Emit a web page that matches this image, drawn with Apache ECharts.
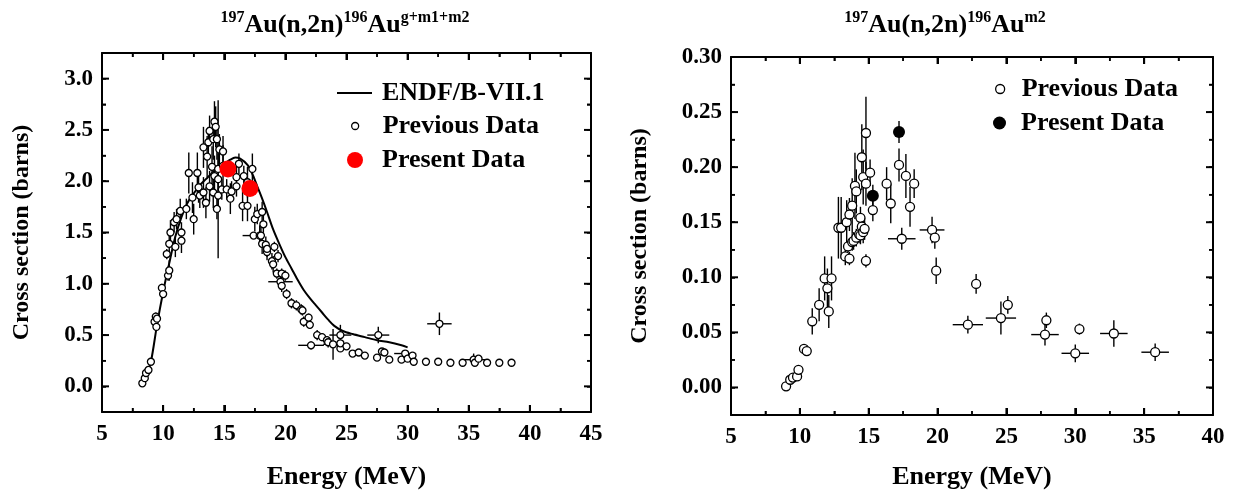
<!DOCTYPE html>
<html>
<head>
<meta charset="utf-8">
<script src="https://cdn.jsdelivr.net/npm/echarts@6/dist/echarts.min.js"></script>
<style>
html,body{margin:0;padding:0;background:#fff;}
#chart{width:1239px;height:495px;}
</style>
</head>
<body>
<div id="chart"></div>
<script>
// ---------- data ----------
// tick labels
const leftXTicks = [5,10,15,20,25,30,35,40,45];
const leftYTicks = [0,0.5,1.0,1.5,2.0,2.5,3.0];
const rightXTicks = [5,10,15,20,25,30,35,40];
const rightYTicks = [0,0.05,0.10,0.15,0.20,0.25,0.30];

// ENDF/B-VII.1 evaluation, g+m1+m2 : [E (MeV), sigma (b)]
const leftEndf = [[8.2,0],[8.6,0.1],[9.0,0.24],[9.5,0.6],[10,0.92],[10.5,1.2],[11,1.46],[11.5,1.65],[12,1.79],[12.5,1.88],[13,1.96],[13.5,2.02],[14,2.08],[14.5,2.13],[15,2.17],[15.5,2.21],[15.9,2.23],[16.3,2.22],[16.9,2.16],[17.3,2.07],[17.7,1.95],[18.1,1.83],[18.5,1.70],[19,1.53],[19.5,1.39],[20,1.26],[20.5,1.15],[21,1.04],[21.5,0.94],[22,0.86],[22.5,0.79],[23,0.72],[23.5,0.65],[24,0.59],[24.7,0.54],[25.5,0.51],[26.5,0.48],[27.5,0.45],[28.5,0.43],[29.5,0.40],[30,0.38]];

// previous data, g+m1+m2 : [E, sigma, d_sigma, d_E]
const leftPrev = [
[8.3,0.03,0,0],[8.5,0.08,0,0],[8.6,0.13,0.02,0],[8.8,0.16,0,0],[9.0,0.24,0.02,0],
[9.3,0.63,0.03,0],[9.4,0.68,0.04,0],[9.45,0.58,0.03,0],[9.5,0.66,0,0],[9.9,0.96,0.04,0],
[10.0,0.90,0.03,0],[10.3,1.29,0.05,0],[10.4,1.08,0.05,0],[10.5,1.13,0.1,0],[10.5,1.39,0.1,0],
[10.6,1.50,0.12,0],[10.9,1.60,0.1,0],[11.0,1.36,0.1,0],[11.1,1.63,0.1,0],[11.4,1.71,0.12,0],
[11.5,1.42,0.12,0],[11.5,1.50,0.1,0],[11.9,1.73,0.1,0],[12.1,2.08,0.2,0],[12.4,1.84,0.15,0],
[12.5,1.63,0.15,0],[12.8,2.08,0.2,0],[12.9,1.94,0.15,0],[13.0,1.86,0.12,0],[13.3,1.89,0.15,0],
[13.3,2.33,0.2,0],[13.5,1.79,0.15,0],[13.6,2.24,0.2,0],[13.7,2.38,0.15,0],[13.8,2.49,0.15,0],
[13.8,1.95,0.15,0],[14.0,2.14,0.2,0],[14.1,2.41,0.2,0],[14.1,1.89,0.15,0],[14.2,2.58,0.2,0],
[14.2,2.05,0.2,0],[14.3,2.53,0.2,0],[14.4,2.41,0.2,0],[14.4,1.73,0.1,0],[14.5,2.02,0.77,0],
[14.5,1.86,0.15,0],[14.5,2.12,0.15,0],[14.6,2.31,0.15,0],[14.8,1.92,0.1,0],[14.9,2.29,0.15,0],
[14.9,2.15,0.2,0],[15.2,1.92,0.1,0],[15.5,1.83,0.15,0],[15.6,1.90,0.1,0],[16.0,1.95,0.1,0],
[16.0,2.04,0.12,0],[16.2,2.17,0.1,0],[16.5,1.76,0.15,0],[16.6,2.05,0.1,0],[16.9,1.99,0.15,0],
[16.9,1.76,0.15,0],[17.3,2.12,0.15,0],[17.4,1.47,0,0.9],[17.5,1.63,0.12,0],[17.7,1.68,0.1,0],
[17.9,1.47,0.1,0],[18.0,1.47,0.1,0],[18.1,1.70,0.1,0],[18.1,1.39,0.1,0],[18.2,1.58,0.1,0],
[18.4,1.38,0.08,0],[18.5,1.31,0.08,0],[18.5,1.34,0.08,0],[18.9,1.22,0.08,0],[19.0,1.19,0.08,0],
[19.1,1.36,0.05,0],[19.3,1.10,0.05,0],[19.4,1.27,0.06,0],[19.6,1.02,0.08,1.0],[19.7,1.10,0.05,0],
[19.7,0.98,0.06,0],[20.0,1.08,0.05,0],[20.1,0.90,0.05,0],[20.5,0.81,0.05,0],[20.9,0.79,0.05,0],
[21.3,0.75,0.05,0],[21.4,0.74,0.05,0],[21.5,0.63,0.05,0],[21.9,0.67,0.04,0],[22.0,0.60,0.04,0],
[22.1,0.40,0.04,1.05],[22.6,0.50,0.05,0],[23.0,0.48,0.04,0],[23.4,0.45,0.04,0],[23.5,0.43,0.05,0],
[23.9,0.41,0.15,0.8],[24.5,0.50,0.1,0.9],[24.5,0.37,0.03,0],[24.5,0.42,0.03,0],[25.0,0.39,0.03,0],
[25.5,0.32,0,0],[26.0,0.33,0,0],[26.5,0.30,0,0],[27.5,0.28,0,0],[27.6,0.50,0.08,0.9],
[27.9,0.34,0.03,0],[28.1,0.33,0.03,0],[28.5,0.26,0,0],[29.5,0.26,0,0],[29.8,0.32,0,0.9],
[30.0,0.27,0,0],[30.4,0.30,0,0],[30.5,0.24,0,0],[31.5,0.24,0,0],[32.5,0.24,0,0],
[32.6,0.61,0.11,1.0],[33.5,0.23,0,0],[34.5,0.23,0,0],[35.4,0.26,0.06,1.0],[35.5,0.23,0,0],
[35.8,0.27,0,0],[36.5,0.23,0,0],[37.5,0.23,0,0],[38.5,0.23,0,0]
];
// present data, g+m1+m2 : [E, sigma]
const leftPresent = [[15.3,2.12],[17.1,1.93]];

// previous data, m2 : [E, sigma, d_sigma, d_E]
const rightPrev = [
[9.0,0.001,0,0],[9.3,0.007,0,0],[9.5,0.009,0,0],[9.8,0.010,0,0],[9.9,0.016,0.002,0],
[10.3,0.035,0.004,0],[10.5,0.033,0.003,0],[10.9,0.060,0.012,0],[11.4,0.075,0.015,0],[11.8,0.099,0.02,0],
[12.0,0.090,0.018,0],[12.1,0.069,0.015,0],[12.3,0.099,0.02,0],[12.8,0.145,0.028,0],[13.0,0.145,0.028,0],
[13.3,0.119,0.008,0],[13.4,0.150,0.02,0],[13.5,0.128,0.005,0],[13.6,0.117,0.006,0],[13.6,0.157,0.015,0],
[13.8,0.165,0.025,0],[13.8,0.132,0.008,0],[13.9,0.133,0.008,0],[14.0,0.183,0.03,0],[14.1,0.178,0.02,0],
[14.1,0.136,0.008,0],[14.3,0.139,0.008,0],[14.4,0.154,0.01,0],[14.4,0.138,0.008,0],[14.5,0.209,0.03,0],
[14.5,0.146,0.01,0],[14.6,0.191,0.025,0],[14.6,0.141,0.01,0],[14.7,0.144,0.01,0],[14.8,0.231,0.033,0],
[14.8,0.185,0.02,0],[14.8,0.115,0.006,0],[15.1,0.195,0.012,0],[15.3,0.161,0.01,0],[16.3,0.185,0.015,0],
[16.6,0.167,0.018,0],[17.2,0.202,0.015,0],[17.4,0.135,0.01,1.0],[17.7,0.192,0.02,0],[18.0,0.164,0.018,0],
[18.3,0.185,0.013,0],[19.6,0.143,0.012,0.9],[19.8,0.136,0.01,0],[19.9,0.106,0.012,0],[22.2,0.057,0.008,1.1],
[22.8,0.094,0.009,0],[24.6,0.063,0.015,1.1],[25.1,0.075,0.008,0],[27.8,0.048,0.01,1.0],[27.9,0.061,0.007,0],
[30.0,0.031,0.008,1.0],[30.3,0.053,0.005,0],[32.8,0.049,0.012,1.0],[35.8,0.032,0.008,1.0]
];
// present data, m2 : [E, sigma, d_sigma, d_E]
const rightPresent = [[15.3,0.174,0.01,0],[17.2,0.232,0.01,0]];

// ---------- helpers ----------
const FONT = 'Liberation Serif';
const labelFont = {color:'#000',fontFamily:FONT,fontWeight:'bold',fontSize:23};
const nameFont = (s)=>({color:'#000',fontFamily:FONT,fontWeight:'bold',fontSize:s});
const L = {xmin:5, xmax:45, ymin:-0.25, ymax:3.25};
const R = {xmin:5, xmax:40, ymin:-0.025, ymax:0.30};

function onList(v, list){ return list.some(t => Math.abs(t - v) < 1e-9); }
function mids(arr){ const o=[]; for(let i=0;i<arr.length-1;i++) o.push((arr[i]+arr[i+1])/2); return o; }

function xAxisSet(gridIndex, ext, ticks, name, nameGap){
  const step = ticks[1] - ticks[0];
  return ['bottom','top'].map((pos, si) => ({
    type:'value', gridIndex, position:pos, min:ext.xmin, max:ext.xmax, interval:step,
    axisLine:{show:true,onZero:false,lineStyle:{color:'#000',width:2}},
    axisTick:{show:true,inside:true,length:7,lineStyle:{color:'#000',width:2}},
    minorTick:{show:true,splitNumber:2,length:4,lineStyle:{color:'#000',width:1.5}},
    axisLabel:Object.assign({show:si===0,margin:11,formatter:v=>onList(v,ticks)?String(v):''}, labelFont),
    splitLine:{show:false}, minorSplitLine:{show:false},
    name: si===0 ? name : '', nameLocation:'middle', nameGap, nameTextStyle:nameFont(26)
  }));
}
function yAxisSet(gridIndex, ext, ticks, digits, name, nameGap){
  const step = (ticks[1] - ticks[0]) / 2;
  return ['left','right'].map((pos, si) => ({
    type:'value', gridIndex, position:pos, min:ext.ymin, max:ext.ymax, interval:step,
    axisLine:{show:true,onZero:false,lineStyle:{color:'#000',width:2}},
    axisTick:{show:true,inside:true,length:4,lineStyle:{color:'#000',width:1.5}},
    axisLabel:Object.assign({show:si===0,margin:9,showMinLabel:false,
      formatter:v=>onList(v,ticks)?v.toFixed(digits):''}, labelFont),
    splitLine:{show:false},
    name: si===0 ? name : '', nameLocation:'middle', nameGap, nameTextStyle:nameFont(24)
  }));
}

// rows for the marks series: error bars [x, y, dy, dx, 0]; frame ticks [x, y, major, 0, 1|2]
function errRows(rows){ return rows.map(r => [r[0], r[1], r[2], r[3], 0]); }
function tickRows(ext, xt, yt){
  const items = [];
  xt.forEach(v => items.push([v, ext.ymin, 1, 0, 1]));
  mids(xt).forEach(v => items.push([v, ext.ymin, 0, 0, 1]));
  yt.forEach(v => items.push([ext.xmin, v, 1, 0, 2]));
  mids(yt).forEach(v => items.push([ext.xmin, v, 0, 0, 2]));
  return items;
}
function marksRender(ext){
  return function(params, api){
    const x = api.value(0), y = api.value(1), p = api.value(2), q = api.value(3), kind = api.value(4);
    const ch = [];
    if (kind === 0){
      if (p > 0){
        const a = api.coord([x, y-p]), b = api.coord([x, y+p]);
        ch.push({type:'line', shape:{x1:a[0],y1:a[1],x2:b[0],y2:b[1]}, style:{stroke:'#000', lineWidth:1.4}});
      }
      if (q > 0){
        const a = api.coord([x-q, y]), b = api.coord([x+q, y]);
        ch.push({type:'line', shape:{x1:a[0],y1:a[1],x2:b[0],y2:b[1]}, style:{stroke:'#000', lineWidth:1.4}});
      }
    } else {
      const len = p ? 7 : 4;
      const lw = p ? 2 : 1.5;
      if (kind === 1){
        const a = api.coord([x, ext.ymin]), b = api.coord([x, ext.ymax]);
        ch.push({type:'line', shape:{x1:a[0],y1:a[1],x2:a[0],y2:a[1]-len}, style:{stroke:'#000', lineWidth:lw}});
        ch.push({type:'line', shape:{x1:b[0],y1:b[1],x2:b[0],y2:b[1]+len}, style:{stroke:'#000', lineWidth:lw}});
      } else {
        const a = api.coord([ext.xmin, y]), b = api.coord([ext.xmax, y]);
        ch.push({type:'line', shape:{x1:a[0],y1:a[1],x2:a[0]+len,y2:a[1]}, style:{stroke:'#000', lineWidth:lw}});
        ch.push({type:'line', shape:{x1:b[0],y1:b[1],x2:b[0]-len,y2:b[1]}, style:{stroke:'#000', lineWidth:lw}});
      }
    }
    return {type:'group', children:ch};
  };
}

const xAxes = [].concat(
  xAxisSet(0, L, leftXTicks, 'Energy (MeV)', 52),
  xAxisSet(1, R, rightXTicks, 'Energy (MeV)', 49)
);
const yAxes = [].concat(
  yAxisSet(0, L, leftYTicks, 1, 'Cross section (barns)', 68),
  yAxisSet(1, R, rightYTicks, 2, 'Cross section (barns)', 79)
);

function leg(item, left, top, w, h, pad){
  return {show:true, orient:'vertical', left, top, padding:0, itemWidth:w, itemHeight:h,
    selectedMode:false,
    textStyle:{color:'#000',fontFamily:FONT,fontWeight:'bold',fontSize:26,lineHeight:26,padding:[0,0,0,pad]},
    data:[item]};
}

const rich = {
  s:{fontFamily:FONT,fontWeight:'bold',fontSize:16,fill:'#000',verticalAlign:'top',lineHeight:16},
  m:{fontFamily:FONT,fontWeight:'bold',fontSize:26,fill:'#000',lineHeight:30}
};

const option = {
  animation:false,
  grid:[
    {left:102, top:53, width:489, height:360},
    {left:731, top:57, width:482, height:359}
  ],
  xAxis:xAxes,
  yAxis:yAxes,
  legend:[
    leg({name:'ENDF/B-VII.1', icon:'rect', itemStyle:{color:'#000'}}, 337, 80, 35, 2, 5),
    leg({name:'Previous Data', icon:'circle', itemStyle:{color:'#fff',borderColor:'#000',borderWidth:1.3}}, 351, 113, 7, 7, 19),
    leg({name:'Present Data', icon:'circle', itemStyle:{color:'#ff0000',borderWidth:0}}, 347, 147, 16, 16, 14),
    leg({name:'Previous Data', icon:'circle', itemStyle:{color:'#fff',borderColor:'#000',borderWidth:1.3}}, 995, 76, 9, 9, 12),
    leg({name:'Present Data', icon:'circle', itemStyle:{color:'#000',borderWidth:0}}, 993, 110, 13, 13, 10)
  ],
  graphic:[
    {type:'text', x:345, y:10, style:{text:'{s|197}{m|Au(n,2n)}{s|196}{m|Au}{s|g+m1+m2}', rich, align:'center', verticalAlign:'top'}},
    {type:'text', x:945, y:10, style:{text:'{s|197}{m|Au(n,2n)}{s|196}{m|Au}{s|m2}', rich, align:'center', verticalAlign:'top'}}
  ],
  series:[
    {type:'custom', name:'marks-left', xAxisIndex:0, yAxisIndex:0, renderItem:marksRender(L),
      data:errRows(leftPrev).concat(tickRows(L, leftXTicks, leftYTicks)), encode:{x:0,y:1}, z:2, silent:true},
    {type:'line', name:'ENDF/B-VII.1', xAxisIndex:0, yAxisIndex:0, data:leftEndf,
      showSymbol:false, symbol:'none', smooth:0.3, lineStyle:{color:'#000',width:2}, itemStyle:{color:'#000'}, z:3},
    {type:'scatter', name:'Previous Data', xAxisIndex:0, yAxisIndex:0,
      data:leftPrev.map(r=>[r[0],r[1]]), symbol:'circle', symbolSize:7,
      itemStyle:{color:'#fff',borderColor:'#000',borderWidth:1.3,opacity:1}, z:4},
    {type:'scatter', name:'Present Data', xAxisIndex:0, yAxisIndex:0,
      data:leftPresent, symbol:'circle', symbolSize:17, itemStyle:{color:'#ff0000',opacity:1}, z:5},

    {type:'custom', name:'marks-right', xAxisIndex:2, yAxisIndex:2, renderItem:marksRender(R),
      data:errRows(rightPrev.concat(rightPresent)).concat(tickRows(R, rightXTicks, rightYTicks)), encode:{x:0,y:1}, z:2, silent:true},
    {type:'scatter', name:'Previous Data', xAxisIndex:2, yAxisIndex:2,
      data:rightPrev.map(r=>[r[0],r[1]]), symbol:'circle', symbolSize:9,
      itemStyle:{color:'#fff',borderColor:'#000',borderWidth:1.3,opacity:1}, z:4},
    {type:'scatter', name:'Present Data', xAxisIndex:2, yAxisIndex:2,
      data:rightPresent.map(r=>[r[0],r[1]]), symbol:'circle', symbolSize:12,
      itemStyle:{color:'#000',opacity:1}, z:5}
  ]
};

const chart = echarts.init(document.getElementById('chart'), null, {renderer:'canvas'});
chart.setOption(option);
</script>
</body>
</html>
